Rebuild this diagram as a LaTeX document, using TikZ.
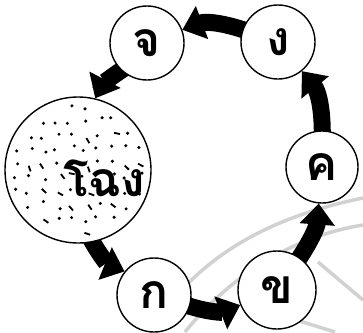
\documentclass[tikz,border=0pt]{standalone}
\usepackage{fontspec}
\newfontfamily\thai[Script=Thai]{Loma}
\usetikzlibrary{arrows.meta,backgrounds}
\tikzset{
  ring/.style={circle, draw=black, line width=1.4pt, fill=white, minimum size=74pt, inner sep=0pt, font=\thai\bfseries\fontsize{48}{50}\selectfont},
  bigring/.style={ring, minimum size=146pt},
  fat/.style={line width=17pt, draw=black, -{Triangle[width=34pt,length=21pt]}, shorten <=-8pt},
  wmark/.style={draw=black!18, line width=3.5pt},
  speck/.style={fill=black}
}
\begin{document}
\begin{tikzpicture}[x=1pt,y=1pt]
\useasboundingbox (0,0) rectangle (363,-332);
\node[bigring] (big) at (78,-170) {};
\node[ring] (jo) at (147,-43) {จ};
\node[ring] (ngo) at (278,-42) {ง};
\node[ring, minimum size=72pt] (kho) at (322,-167) {ค};
\node[ring] (ko) at (154,-295) {ก};
\node[ring, minimum size=78pt] (khai) at (277,-290) {ข};
\begin{scope}[on background layer]
  \draw[wmark] (150,-332) .. controls (200,-250) and (280,-215) .. (363,-198);
  \draw[wmark] (185,-332) .. controls (235,-270) and (300,-235) .. (363,-225);
  \draw[wmark] (318,-262) -- (363,-300);
  \draw[wmark] (290,-318) -- (335,-332);
  \draw[fat] (big) to[bend right=20] (ko);
  \draw[fat] (ko) to[bend right=20] (khai);
  \draw[fat] (khai) to[bend right=15] (kho);
  \draw[fat] (kho) to[bend right=20] (ngo);
  \draw[fat] (ngo) to[bend right=20] (jo);
  \draw[fat] (jo) to[bend right=15] (big);
\end{scope}
\pgfmathsetseed{5}
\foreach \gx in {-63,-49,...,63}{
  \foreach \gy in {-63,-49,...,63}{
    \pgfmathsetmacro\px{\gx+8*(rnd-0.5)}
    \pgfmathsetmacro\py{\gy+8*(rnd-0.5)}
    \pgfmathsetmacro\dd{sqrt(\px*\px+\py*\py)}
    \pgfmathsetmacro\kind{rnd}
    \ifdim\dd pt<66pt
      \ifdim\kind pt<0.78pt
        \fill[speck] (big) ++(\px,\py) circle (1.7pt);
      \else
        \draw[line width=1.8pt] (big) ++(\px,\py) -- ++(360*\kind:6pt);
      \fi
    \fi
  }
}
\node[font=\thai\bfseries\fontsize{48}{50}\selectfont, inner sep=0pt] (bigtxt) at (104,-178) {โฉง};
\end{tikzpicture}
\end{document}
